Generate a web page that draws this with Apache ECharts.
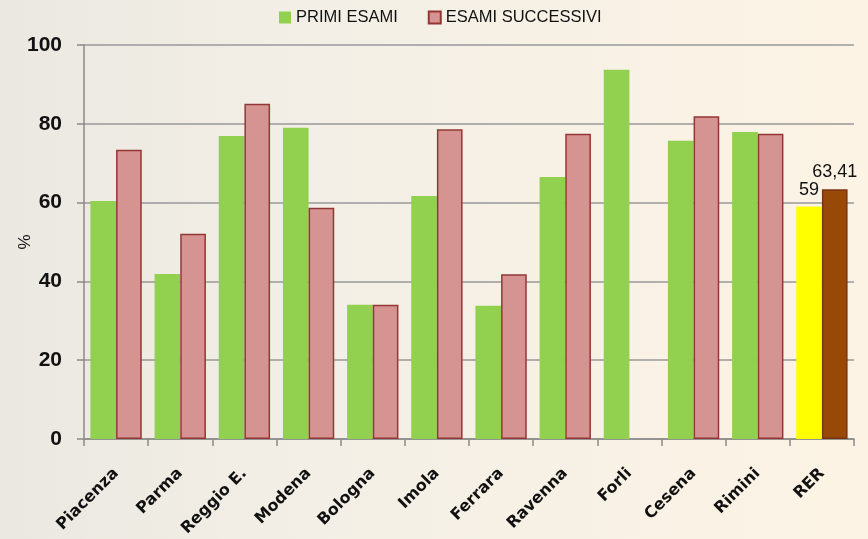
<!DOCTYPE html>
<html>
<head>
<meta charset="utf-8">
<script src="https://cdn.jsdelivr.net/npm/echarts@6/dist/echarts.min.js"></script>
<style>
  html, body { margin: 0; padding: 0; }
  #main { width: 868px; height: 539px; }
</style>
</head>
<body>
<div id="main"></div>
<script>
// dati
var categories = ['Piacenza', 'Parma', 'Reggio E.', 'Modena', 'Bologna', 'Imola', 'Ferrara', 'Ravenna', 'Forli', 'Cesena', 'Rimini', 'RER'];
var primiEsami = [60.4, 41.9, 76.9, 79.0, 34.1, 61.7, 33.8, 66.5, 93.7, 75.7, 77.9, 59];
var esamiSuccessivi = [73.4, 52.1, 85.1, 58.7, 34.1, 78.6, 41.8, 77.5, null, 81.9, 77.5, 63.41];
var yTicks = [0, 20, 40, 60, 80, 100];

var chart = echarts.init(document.getElementById('main'));

var last = categories.length - 1;

var primiData = primiEsami.map(function (v, i) {
  if (i === last) {
    return {
      value: v,
      itemStyle: { color: '#ffff00' },
      label: { show: true, formatter: '59' }
    };
  }
  return v;
});

var succData = esamiSuccessivi.map(function (v, i) {
  if (v === null) return '-';
  if (i === last) {
    return {
      value: v,
      itemStyle: { color: '#984807', borderColor: '#7a3410' },
      label: { show: true, formatter: '63,41' }
    };
  }
  return v;
});

var barLabel = {
  show: false,
  position: 'top',
  distance: 8,
  color: '#111',
  fontFamily: 'Liberation Sans, Arial, sans-serif',
  fontSize: 18
};

var option = {
  backgroundColor: {
    type: 'linear', x: 0, y: 0, x2: 1, y2: 0,
    colorStops: [
      { offset: 0, color: '#ebe8e1' },
      { offset: 0.35, color: '#f3efe6' },
      { offset: 1, color: '#fcf3e4' }
    ]
  },
  legend: {
    top: 4,
    left: 274,
    itemWidth: 12,
    itemHeight: 12,
    itemGap: 30,
    icon: 'rect',
    textStyle: {
      fontFamily: 'Liberation Sans, Arial, sans-serif',
      fontSize: 16.5,
      color: '#111'
    },
    data: ['PRIMI ESAMI', 'ESAMI SUCCESSIVI']
  },
  grid: {
    left: 84,
    right: 14,
    top: 45,
    bottom: 100,
    outerBoundsMode: 'none',
    containLabel: false
  },
  xAxis: {
    type: 'category',
    data: categories,
    axisLine: { lineStyle: { color: '#8a8a8a', width: 1.5 } },
    axisTick: { show: true, length: 7, lineStyle: { color: '#8a8a8a', width: 1.5 } },
    axisLabel: {
      rotate: 45,
      margin: 32,
      interval: 0,
      color: '#111',
      fontWeight: 'bold',
      fontSize: 16,
      fontFamily: 'Comic Sans MS, DejaVu Sans, sans-serif'
    }
  },
  yAxis: {
    type: 'value',
    min: 0,
    max: 100,
    interval: 20,
    name: '%',
    nameLocation: 'middle',
    nameGap: 50,
    nameRotate: 90,
    nameMoveOverlap: false,
    nameTextStyle: {
      fontFamily: 'Liberation Sans, Arial, sans-serif',
      fontSize: 17,
      color: '#111'
    },
    axisLine: { show: true, lineStyle: { color: '#8a8a8a', width: 1.5 } },
    axisTick: { show: true, length: 7, lineStyle: { color: '#8a8a8a', width: 1.5 } },
    splitLine: { lineStyle: { color: '#999', width: 1.5 } },
    axisLabel: {
      margin: 22,
      color: '#111',
      fontWeight: 'bold',
      fontSize: 21,
      fontFamily: 'Liberation Sans, Arial, sans-serif',
      formatter: function (v) { return yTicks.indexOf(v) >= 0 ? String(v) : ''; }
    }
  },
  series: [
    {
      name: 'PRIMI ESAMI',
      type: 'bar',
      barGap: '0%',
      barCategoryGap: '20%',
      itemStyle: { color: '#92d050' },
      label: barLabel,
      data: primiData
    },
    {
      name: 'ESAMI SUCCESSIVI',
      type: 'bar',
      barGap: '0%',
      barCategoryGap: '20%',
      itemStyle: { color: '#d59392', borderColor: '#963634', borderWidth: 1.5 },
      label: barLabel,
      data: succData
    }
  ]
};

chart.setOption(option);
</script>
</body>
</html>
